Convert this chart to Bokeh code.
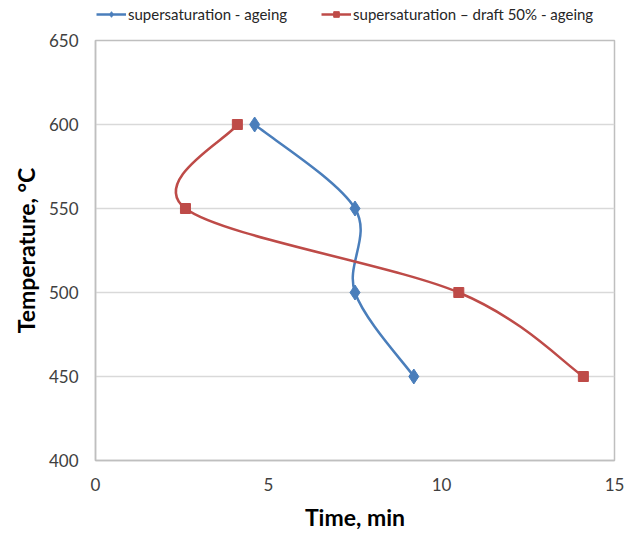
from bokeh.plotting import figure
from bokeh.models import Legend, LegendItem, Range1d, FixedTicker
from bokeh.layouts import column
from bokeh.embed import file_html
from bokeh.resources import INLINE

# data
temperature = [600, 550, 500, 450]
time_ageing = [4.6, 7.5, 7.5, 9.2]
time_draft = [4.1, 2.6, 10.5, 14.1]
series_names = ["supersaturation - ageing", "supersaturation \u2013 draft 50% - ageing"]
x_ticks = [0, 5, 10, 15]
y_ticks = [400, 450, 500, 550, 600, 650]

BLUE = "#4A7EBB"
RED = "#BE4B48"
FONT = "Lato"


def smooth_segments(xs, ys, t=1.0 / 6.0):
    n = len(xs)
    seg = dict(x0=[], y0=[], x1=[], y1=[], cx0=[], cy0=[], cx1=[], cy1=[])
    for i in range(n - 1):
        a = i - 1 if i > 0 else i
        d = i + 2 if i + 2 < n else i + 1
        seg["x0"].append(xs[i]); seg["y0"].append(ys[i])
        seg["x1"].append(xs[i + 1]); seg["y1"].append(ys[i + 1])
        seg["cx0"].append(xs[i] + (xs[i + 1] - xs[a]) * t)
        seg["cy0"].append(ys[i] + (ys[i + 1] - ys[a]) * t)
        seg["cx1"].append(xs[i + 1] - (xs[d] - xs[i]) * t)
        seg["cy1"].append(ys[i + 1] - (ys[d] - ys[i]) * t)
    return seg


p = figure(width=637, height=503, output_backend="svg", toolbar_location=None,
           x_range=Range1d(0, 15), y_range=Range1d(400, 650),
           min_border_left=95, min_border_right=23, min_border_top=10, min_border_bottom=70)
p.background_fill_color = "white"
p.border_fill_color = "white"
p.outline_line_color = "#BFBFBF"
p.outline_line_width = 1.5

p.xgrid.visible = False
p.ygrid.ticker = FixedTicker(ticks=y_ticks)
p.ygrid.grid_line_color = "#D9D9D9"
p.ygrid.grid_line_width = 1.5

p.xaxis.ticker = FixedTicker(ticks=x_ticks)
p.yaxis.ticker = FixedTicker(ticks=y_ticks)
for ax in (p.xaxis[0], p.yaxis[0]):
    ax.axis_line_color = "#BFBFBF"
    ax.axis_line_width = 1.5
    ax.major_tick_out = 0
    ax.major_tick_in = 0
    ax.minor_tick_out = 0
    ax.minor_tick_in = 0
    ax.major_label_text_font = FONT
    ax.major_label_text_font_size = "17px"
    ax.major_label_text_color = "#404040"
    ax.axis_label_text_font = FONT
    ax.axis_label_text_font_style = "bold"
    ax.axis_label_text_font_size = "23px"
    ax.axis_label_text_color = "black"

p.xaxis.axis_label = "Time, min"
p.yaxis.axis_label = "Temperature, \u00b0C"
p.xaxis.major_label_standoff = 17
p.xaxis.axis_label_standoff = 9
p.yaxis.major_label_standoff = 17
p.yaxis.axis_label_standoff = 6

# legend strip above the chart (its own frame holds no visible data)
lf = figure(width=637, height=30, output_backend="svg", toolbar_location=None,
            x_range=Range1d(0, 15), y_range=Range1d(0, 1),
            x_axis_location=None, y_axis_location=None,
            min_border=0)
lf.outline_line_color = None
lf.grid.visible = False
lf.background_fill_color = "white"
lf.border_fill_color = "white"

items = []
for xs, color, marker, size, leg_size, name in [
    (time_ageing, BLUE, "diamond", 15, 12, series_names[0]),
    (time_draft, RED, "square", 10, 10, series_names[1]),
]:
    seg = smooth_segments(xs, temperature)
    p.bezier(x0=seg["x0"], y0=seg["y0"], x1=seg["x1"], y1=seg["y1"],
             cx0=seg["cx0"], cy0=seg["cy0"], cx1=seg["cx1"], cy1=seg["cy1"],
             line_color=color, line_width=2.5)
    p.scatter(x=xs, y=temperature, marker=marker, size=size,
              fill_color=color, line_color=color)
    leg_line = lf.line(x=xs, y=temperature, line_color=color, line_width=2.5)
    leg_mark = lf.scatter(x=xs, y=temperature, marker=marker, size=leg_size,
                          fill_color=color, line_color=color)
    items.append(LegendItem(label=name, renderers=[leg_line, leg_mark]))

legend = Legend(items=items, orientation="horizontal", location=(1, 7))
legend.label_text_font = FONT
legend.label_text_font_size = "15px"
legend.label_text_color = "#262626"
legend.glyph_width = 30
legend.glyph_height = 14
legend.label_standoff = 2
legend.spacing = 34
legend.padding = 0
legend.margin = 0
legend.border_line_alpha = 0
legend.background_fill_alpha = 0
lf.add_layout(legend, "center")

layout = column(lf, p, spacing=0)
open("out.html", "w").write(file_html(layout, INLINE))
